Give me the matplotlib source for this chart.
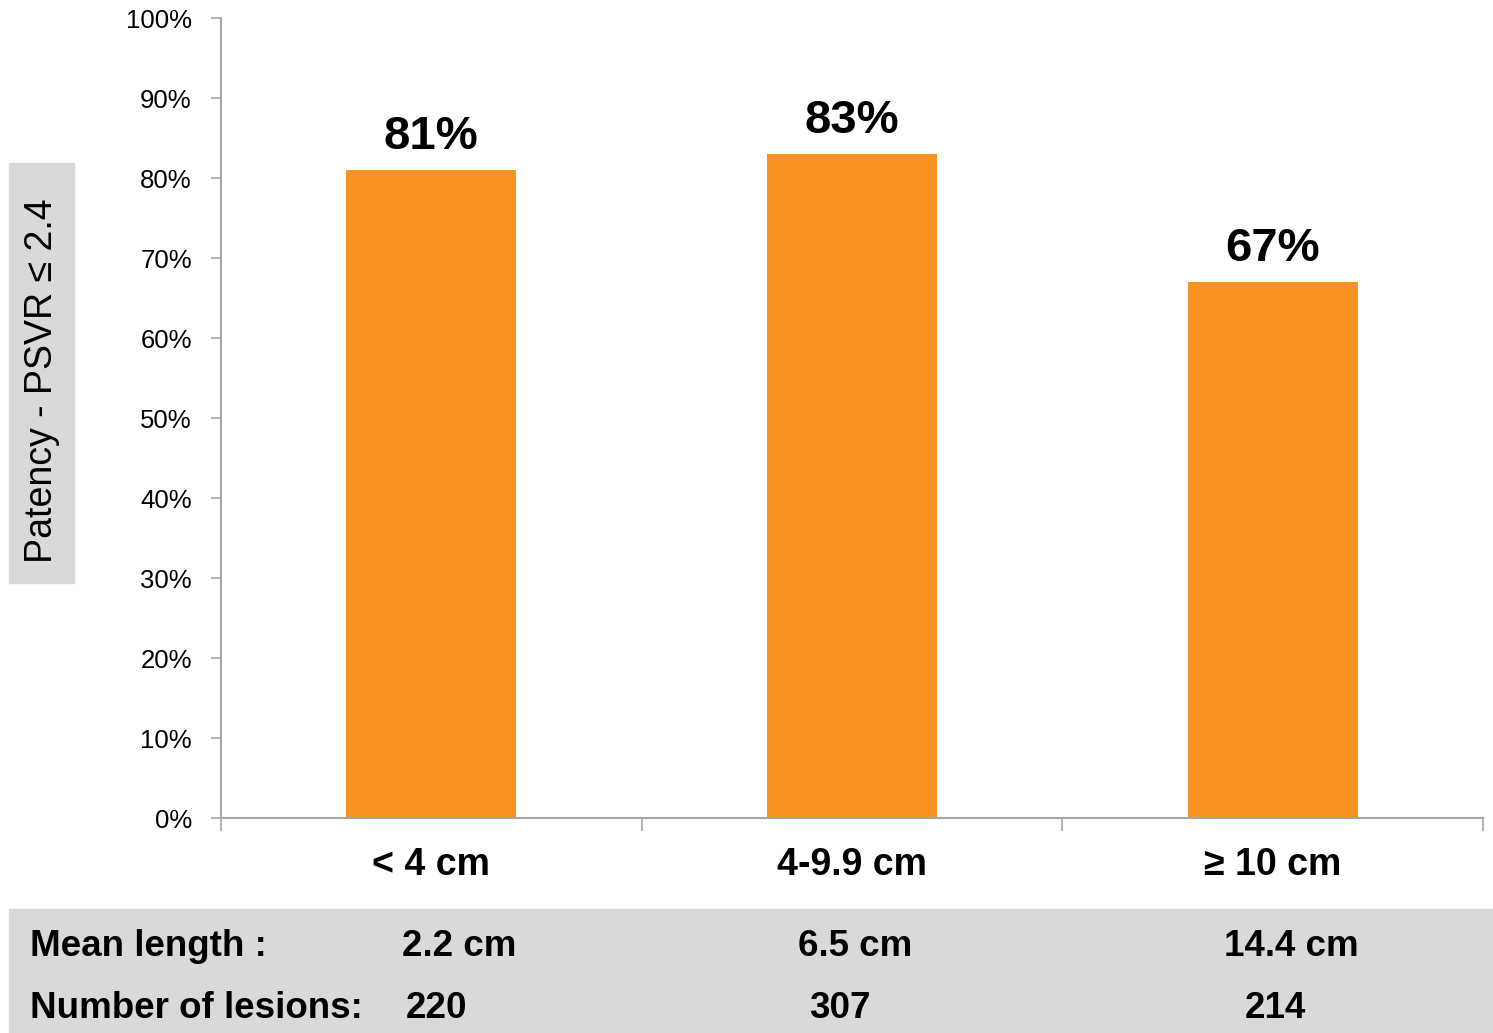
import matplotlib
matplotlib.use("Agg")
import matplotlib.pyplot as plt
from matplotlib.patches import Rectangle
from matplotlib.ticker import FixedLocator, PercentFormatter

categories = ["< 4 cm", "4-9.9 cm", "≥ 10 cm"]
patency = [81, 83, 67]
mean_length = ["2.2 cm", "6.5 cm", "14.4 cm"]
n_lesions = ["220", "307", "214"]
ylabel = "Patency - PSVR ≤ 2.4"

plt.rcParams['font.family'] = ['Liberation Sans', 'DejaVu Sans']
ORANGE = "#F7931E"
GRID = "#A6A6A6"
BAND = "#D9D9D9"

W, H = 1493, 1033
fig = plt.figure(figsize=(W / 100, H / 100), dpi=100)
ax = fig.add_axes([221 / W, 1 - 818 / H, (1483 - 221) / W, (818 - 18) / H])

x = list(range(len(categories)))
bars = ax.bar(x, patency, width=0.404, color=ORANGE, zorder=2)
for xi, v in zip(x, patency):
    ax.annotate(f"{v}%", (xi, v), xytext=(0, 8), textcoords="offset points",
                ha="center", va="bottom", fontsize=34, fontweight="bold")

ax.set_xlim(-0.5, 2.5)
ax.set_ylim(0, 100)
ax.set_yticks(range(0, 101, 10))
ax.yaxis.set_major_formatter(PercentFormatter(decimals=0))
ax.tick_params(axis="y", labelsize=18.5, length=7, color=GRID, width=1.2, pad=14)

ax.set_xticks(x)
ax.set_xticklabels(categories, fontsize=27, fontweight="bold")
ax.tick_params(axis="x", which="major", length=0, pad=21)
ax.xaxis.set_minor_locator(FixedLocator([-0.5, 0.5, 1.5, 2.5]))
ax.tick_params(axis="x", which="minor", length=9, color=GRID, width=1.2)

for s in ["top", "right"]:
    ax.spines[s].set_visible(False)
for s in ["left", "bottom"]:
    ax.spines[s].set_color(GRID)
    ax.spines[s].set_linewidth(1.5)

# y label box
fig.patches.append(Rectangle((9 / W, 1 - 583 / H), (74 - 9) / W, (583 - 163) / H,
                             transform=fig.transFigure, color=BAND, zorder=0))
fig.text(42 / W, 1 - 381 / H, ylabel, rotation=90, ha="center", va="center", fontsize=27)

# table band
fig.patches.append(Rectangle((9 / W, 0), (W - 9) / W, (1033 - 909) / H,
                             transform=fig.transFigure, color=BAND, zorder=0))
row_y = [946, 1008]
fs = 26.5
fig.text(30 / W, 1 - row_y[0] / H, "Mean length :", ha="left", va="center",
         fontsize=fs, fontweight="bold")
fig.text(30 / W, 1 - row_y[1] / H, "Number of lesions:", ha="left", va="center",
         fontsize=fs, fontweight="bold")
ml_x = [459, 855, 1291]
nl_x = [437, 840, 1275]
for xx, t in zip(ml_x, mean_length):
    fig.text(xx / W, 1 - row_y[0] / H, t, ha="center", va="center",
             fontsize=fs, fontweight="bold")
for xx, t in zip(nl_x, n_lesions):
    fig.text(xx / W, 1 - row_y[1] / H, t, ha="center", va="center",
             fontsize=fs, fontweight="bold")

fig.savefig("out.png", dpi=100)
